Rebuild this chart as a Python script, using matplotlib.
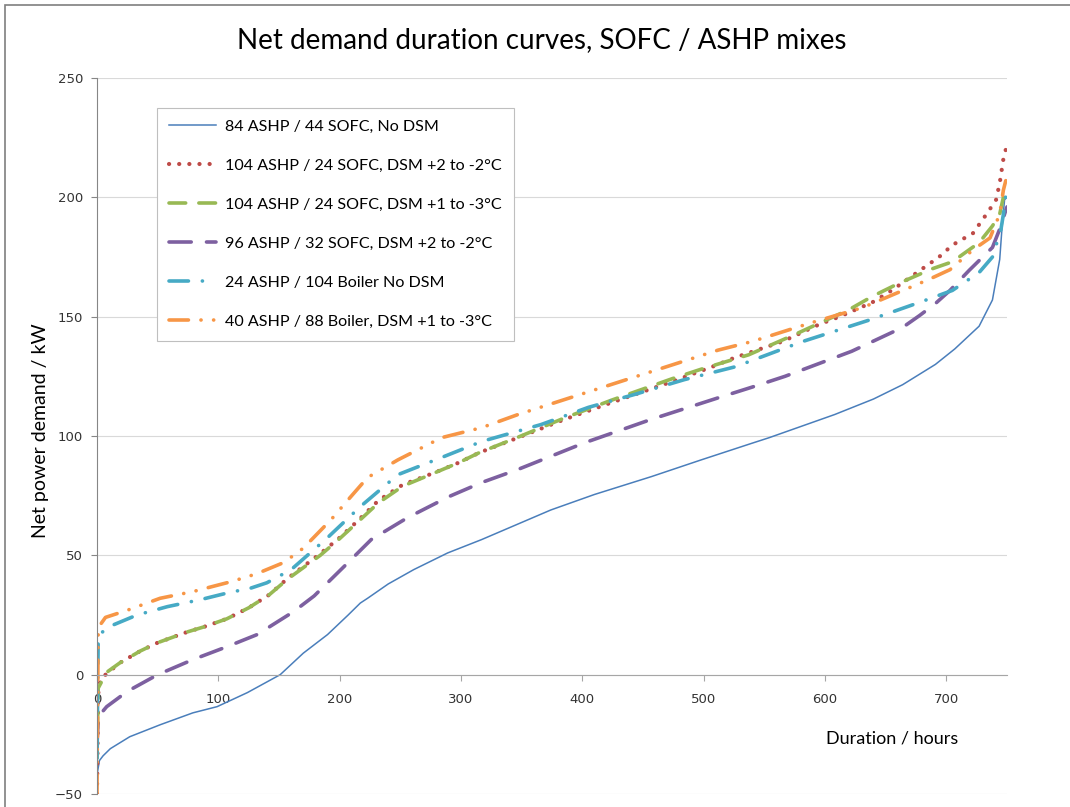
import matplotlib.pyplot as plt
from matplotlib.patches import Rectangle

plt.rcParams['lines.scale_dashes'] = False

# Datos (horas, kW)
x_blue = [0, 1, 2, 5, 11, 27, 52, 79, 99, 124, 151, 170, 190, 207, 217, 223, 240, 261, 289,
          317, 374, 410, 457, 498, 540, 554, 608, 640, 664, 691, 707, 727, 738, 744, 746, 748, 750]
y_blue = [-42, -39, -36, -34, -31, -26, -21, -16, -13.4, -7.5, 0, 9, 16.8, 25, 30, 32, 38, 44, 51,
          56.6, 69, 75.5, 83, 90, 97, 99.3, 109, 115.5, 121.5, 130, 136.5, 146, 157, 174, 188, 199, 200]

x_red = [0, 1, 3, 19, 36, 50, 75, 88, 107, 125, 142, 157, 184, 200, 215, 232, 252, 278, 298, 315,
         347, 385, 424, 474, 507, 526, 565, 595, 612, 639, 655, 680, 694, 705, 722, 734, 741, 744,
         747, 749]
y_red = [-50, -8, -1.7, 5, 10, 13.4, 18, 20, 23.4, 28, 33.5, 40.3, 50.7, 57.4, 64.5, 73, 79.6, 84.6,
         88.8, 93, 99.3, 106.9, 114, 122.8, 129, 132.9, 139.6, 146.7, 150, 156, 161, 170, 175, 180,
         185, 193.6, 199, 206, 216, 220]

x_green = [0, 1, 8, 19, 36, 50, 75, 88, 107, 125, 142, 157, 184, 200, 215, 232, 252, 278, 298,
           315, 347, 385, 424, 474, 498, 537, 575, 620, 639, 661, 688, 705, 727, 738, 744, 747, 749]
y_green = [-35, -5.6, 1, 5, 10, 13.4, 18, 20, 23.4, 28, 33.5, 40, 50, 57, 64, 72, 79, 84.5, 88.8,
           93, 99.5, 107.5, 115, 124, 128, 134, 142.5, 153, 158.5, 164, 170, 173, 181, 188, 193,
           200, 205]

x_purple = [0, 1, 8, 25, 50, 79, 107, 132, 162, 179, 205, 226, 256, 290, 317, 347, 402, 457, 512,
            540, 567, 622, 664, 678, 691, 703, 719, 738, 745, 748, 750]
y_purple = [-30, -17.6, -13.4, -7, 0, 6.3, 11.7, 16.8, 26.4, 33, 46, 56.6, 65.8, 74.6, 80.5, 86,
            97.2, 107, 116, 120.5, 125, 135.5, 145.5, 150.5, 155.5, 161, 169.5, 179, 188, 193, 196]

x_cyan = [0, 1, 8, 33, 58, 85, 112, 124, 140, 160, 190, 217, 248, 286, 317, 366, 405, 443, 484,
          526, 581, 636, 678, 705, 727, 738, 745, 748, 750]
y_cyan = [-35, 16, 19.7, 25, 28.5, 31.4, 34.8, 35.8, 38.5, 44, 57.4, 70.4, 83.8, 91.4, 97.7, 104.8,
          112, 117.4, 123.6, 129, 139.5, 148.5, 156, 161, 168.5, 175, 186.5, 196, 205]

x_orange = [0, 1, 7, 25, 52, 79, 107, 124, 135, 154, 170, 193, 207, 223, 248, 284, 317, 347, 402,
            457, 512, 540, 589, 631, 686, 703, 722, 736, 744, 747, 749]
y_orange = [-50, 19.7, 24, 27, 32, 34.8, 38.5, 41, 43, 47, 53, 65, 73.3, 82.6, 90, 99.3, 103.5, 109,
            118, 127, 136, 139.6, 147.5, 153.8, 165.7, 169.7, 178, 183, 193, 203, 207]

labels = ['84 ASHP / 44 SOFC, No DSM',
          '104 ASHP / 24 SOFC, DSM +2 to -2°C',
          '104 ASHP / 24 SOFC, DSM +1 to -3°C',
          '96 ASHP / 32 SOFC, DSM +2 to -2°C',
          '24 ASHP / 104 Boiler No DSM',
          '40 ASHP / 88 Boiler, DSM +1 to -3°C']

fig = plt.figure(figsize=(10.7, 8.07), dpi=100)
ax = fig.add_axes([97 / 1070, 1 - 794 / 807, 910 / 1070, 716 / 807])

lw = 2.6
ax.plot(x_blue, y_blue, color='#4a7ebb', lw=1.1, label=labels[0])
ax.plot(x_red, y_red, color='#be4b48', lw=3.0, linestyle=(0, (0.1, 7.2)),
        dash_capstyle='round', label=labels[1])
ax.plot(x_green, y_green, color='#98b954', lw=lw, linestyle=(0, (12, 9.5)),
        dash_capstyle='round', label=labels[2])
ax.plot(x_purple, y_purple, color='#7d60a0', lw=lw, linestyle=(0, (16, 11)),
        dash_capstyle='round', label=labels[3])
ax.plot(x_cyan, y_cyan, color='#46aac5', lw=lw, linestyle=(0, (14, 10, 0.1, 10)),
        dash_capstyle='round', label=labels[4])
ax.plot(x_orange, y_orange, color='#f79646', lw=lw, linestyle=(0, (14, 9, 0.1, 9, 0.1, 9)),
        dash_capstyle='round', label=labels[5])

ax.set_xlim(0, 750)
ax.set_ylim(-50, 250)
ax.set_xticks(range(0, 701, 100))
ax.set_yticks(range(-50, 251, 50))

for s in ['top', 'right']:
    ax.spines[s].set_visible(False)
ax.spines['bottom'].set_position(('data', 0))
ax.spines['bottom'].set_color('#a6a6a6')
ax.spines['left'].set_color('#868686')
ax.spines['bottom'].set_linewidth(0.8)
ax.spines['left'].set_linewidth(0.8)
ax.grid(axis='y', color='#d9d9d9', lw=0.8)
ax.set_axisbelow(True)
ax.tick_params(axis='y', length=4, color='#868686', pad=6, labelsize=9.5, labelcolor='#333333')
ax.tick_params(axis='x', length=4, color='#a6a6a6', pad=9, labelsize=9.5, labelcolor='#333333')

leg = ax.legend(loc='upper left', bbox_to_anchor=(0.066, 0.958), borderaxespad=0,
                handlelength=2.9, labelspacing=1.53, borderpad=0.73, handletextpad=0.6,
                fancybox=False, edgecolor='#bfbfbf', framealpha=1,
                prop={'family': 'Lato', 'size': 11.6})
leg.get_frame().set_linewidth(0.8)

fig.text(0.506, 0.95, 'Net demand duration curves, SOFC / ASHP mixes', ha='center', va='center',
         fontsize=20, family='Lato')
fig.text(0.038, 0.467, 'Net power demand / kW', rotation=90, ha='center', va='center',
         fontsize=14, family='Lato')
ax.text(0.874, 0.078, 'Duration / hours', transform=ax.transAxes, ha='center', va='center',
        fontsize=13, family='Lato')

fig.patches.append(Rectangle((5 / 1070, -0.1), 1.2, 1.1 - 5 / 807, transform=fig.transFigure,
                             fill=False, edgecolor='#7f7f7f', lw=1.2))

fig.savefig('out.png', dpi=100)
